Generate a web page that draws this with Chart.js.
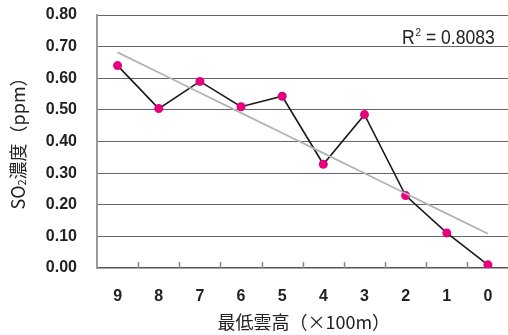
<!DOCTYPE html>
<html>
<head>
<meta charset="utf-8">
<script src="https://cdn.jsdelivr.net/npm/chart.js@4.4.1/dist/chart.umd.min.js"></script>
<style>
  html, body { margin: 0; padding: 0; background: #fff; overflow: hidden; }
  #wrap { width: 513px; height: 335px; }
</style>
</head>
<body>
<div id="wrap"><canvas id="c" width="513" height="335"></canvas></div>
<script>
// Lowest cloud height (x100 m), highest first
const categories = ['9', '8', '7', '6', '5', '4', '3', '2', '1', '0'];
// SO2 concentration (ppm) at each cloud height
const so2Values = [0.64, 0.504, 0.59, 0.51, 0.543, 0.328, 0.485, 0.229, 0.111, 0.01];
// Y axis tick values
const yTicks = [0.0, 0.1, 0.2, 0.3, 0.4, 0.5, 0.6, 0.7, 0.8];
const r2Label = '0.8083';

// Least-squares linear trend over the category index
function linearTrend(values) {
  const n = values.length;
  let sx = 0, sy = 0, sxx = 0, sxy = 0;
  values.forEach((v, i) => { sx += i; sy += v; sxx += i * i; sxy += i * v; });
  const slope = (n * sxy - sx * sy) / (n * sxx - sx * sx);
  const icpt = (sy - slope * sx) / n;
  return values.map((_, i) => icpt + slope * i);
}
const trendValues = linearTrend(so2Values);

const labelFont = '"Liberation Sans", Arial, sans-serif';
const cjkFont = '"Noto Sans CJK JP", "Noto Sans", sans-serif';

// Small upward tick marks between categories on the bottom axis
const betweenTicks = {
  id: 'betweenTicks',
  beforeDatasetsDraw(chart) {
    const { ctx, chartArea, scales: { x } } = chart;
    ctx.save();
    ctx.strokeStyle = '#888';
    ctx.lineWidth = 1.5;
    for (let i = 1; i < categories.length; i++) {
      const px = Math.round((x.getPixelForValue(i - 1) + x.getPixelForValue(i)) / 2) + 0.5;
      ctx.beginPath();
      ctx.moveTo(px, chartArea.bottom);
      ctx.lineTo(px, chartArea.bottom - 6);
      ctx.stroke();
    }
    ctx.restore();
  }
};

// Axis titles and the R² annotation
const annotations = {
  id: 'annotations',
  afterDraw(chart) {
    const { ctx, chartArea } = chart;
    ctx.save();
    ctx.fillStyle = '#222';

    // X axis title
    ctx.font = '18px ' + cjkFont;
    ctx.textAlign = 'center';
    ctx.textBaseline = 'middle';
    ctx.fillText('最低雲高（×100m）', (chartArea.left + chartArea.right) / 2 + 1, 322);

    // Y axis title with subscript 2
    ctx.translate(18, 139);
    ctx.rotate(-Math.PI / 2);
    const big = '18px ' + cjkFont;
    const small = '11px ' + cjkFont;
    const parts = [['SO', big, 0], ['2', small, 4], ['濃度（ppm）', big, 0]];
    let total = 0;
    parts.forEach(p => { ctx.font = p[1]; total += ctx.measureText(p[0]).width; });
    let cx = -total / 2;
    ctx.textAlign = 'left';
    parts.forEach(p => {
      ctx.font = p[1];
      ctx.fillText(p[0], cx, p[2]);
      cx += ctx.measureText(p[0]).width;
    });
    ctx.restore();

    // R² value, in a slightly condensed face
    ctx.save();
    ctx.fillStyle = '#222';
    ctx.textBaseline = 'alphabetic';
    ctx.textAlign = 'left';
    ctx.translate(402, 44);
    ctx.scale(0.9, 1);
    let rx = 0;
    ctx.font = '19.5px ' + labelFont;
    ctx.fillText('R', rx, 0);
    rx += ctx.measureText('R').width + 1;
    ctx.font = '11px ' + labelFont;
    ctx.fillText('2', rx, -8);
    rx += ctx.measureText('2').width;
    ctx.font = '19.5px ' + labelFont;
    ctx.fillText(' = ' + r2Label, rx, 0);
    ctx.restore();
  }
};

new Chart(document.getElementById('c'), {
  type: 'line',
  data: {
    labels: categories,
    datasets: [
      {
        label: 'trend',
        data: trendValues,
        borderColor: '#b3b3b3',
        borderWidth: 1.8,
        pointRadius: 0,
        tension: 0,
        order: 0
      },
      {
        label: 'SO2',
        data: so2Values,
        borderColor: '#1a1a1a',
        borderWidth: 1.6,
        pointRadius: 4.5,
        pointBackgroundColor: '#e6007e',
        pointBorderColor: '#e6007e',
        pointBorderWidth: 0,
        tension: 0,
        order: 1
      }
    ]
  },
  options: {
    responsive: false,
    animation: false,
    events: [],
    layout: { padding: { top: 15, right: 0, left: 0, bottom: 0 } },
    plugins: { legend: { display: false }, tooltip: { enabled: false }, title: { display: false } },
    scales: {
      x: {
        type: 'category',
        offset: true,
        grid: { display: false, drawTicks: false },
        border: { display: true, color: '#555', width: 1.5 },
        ticks: {
          padding: 19,
          color: '#222',
          font: { family: labelFont, size: 16, weight: 'bold' },
          maxRotation: 0
        },
        afterFit(scale) { scale.height = 67; scale.paddingLeft = 0; scale.paddingRight = 0; }
      },
      y: {
        min: 0,
        max: 0.8,
        afterBuildTicks(scale) { scale.ticks = yTicks.map(v => ({ value: v })); },
        grid: {
          drawTicks: false,
          color: ctx => (ctx.tick && ctx.tick.value === 0 ? 'rgba(0,0,0,0)' : '#666'),
          lineWidth: 1
        },
        border: { display: true, color: '#999', width: 2 },
        ticks: {
          padding: 20,
          color: '#222',
          font: { family: labelFont, size: 16, weight: 'bold' },
          callback: v => Number(v).toFixed(2)
        },
        afterFit(scale) { scale.width = 97; scale.paddingTop = 0; scale.paddingBottom = 0; }
      }
    }
  },
  plugins: [betweenTicks, annotations]
});
</script>
</body>
</html>
